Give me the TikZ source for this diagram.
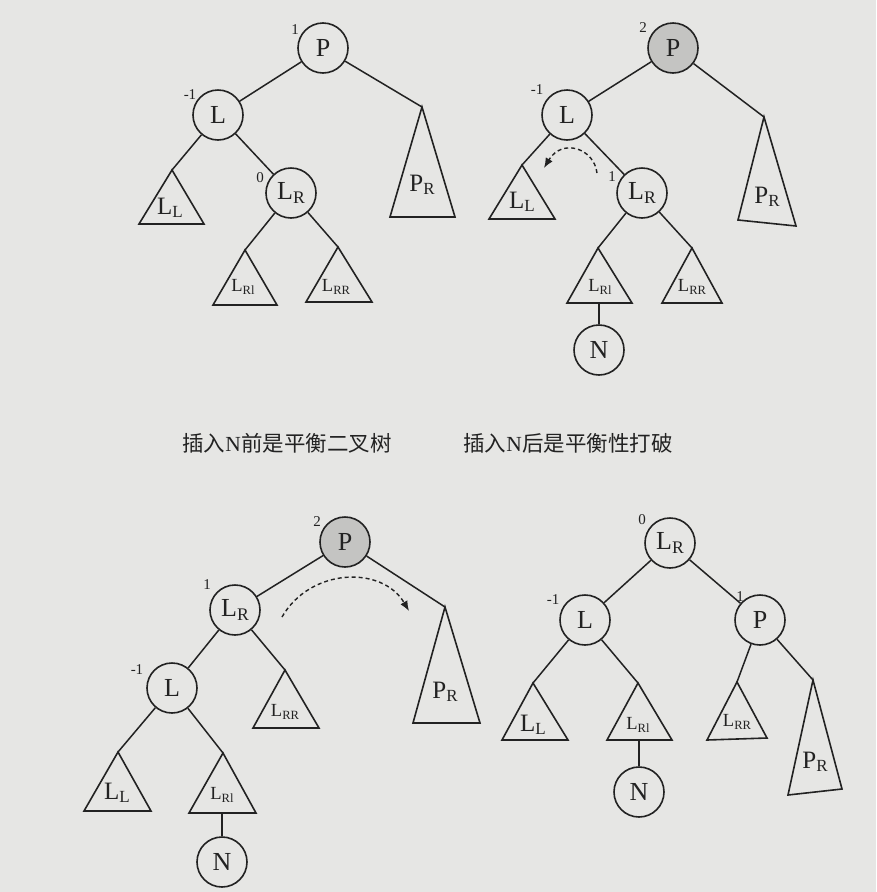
\documentclass[tikz,border=0pt]{standalone}
\usepackage{fontspec}
\usepackage{graphicx}
\setmainfont{Liberation Serif}
\newfontfamily\cjk{Noto Sans CJK SC}
\usetikzlibrary{arrows.meta}
\definecolor{paper}{HTML}{E6E6E4}
\definecolor{ink}{HTML}{222222}
\definecolor{nodegray}{HTML}{C4C4C2}
\newcommand\Sb[2]{#1\raisebox{-0.28ex}{\scalebox{0.68}{#2}}}
\tikzset{
 nd/.style={circle,draw=ink,line width=1.6pt,minimum size=50pt,inner sep=0pt,font=\fontsize{26}{26}\selectfont,text=ink},
 hot/.style={nd,fill=nodegray},
 edge/.style={draw=ink,line width=1.5pt},
 tri/.style={draw=ink,line width=1.6pt,line join=miter},
 lab/.style={inner sep=0pt,font=\fontsize{25}{25}\selectfont,text=ink},
 slab/.style={inner sep=0pt,font=\fontsize{18.5}{18.5}\selectfont,text=ink},
 bal/.style={inner sep=0pt,font=\fontsize{15}{15}\selectfont,text=ink},
 rot/.style={draw=ink,dashed,dash pattern=on 4pt off 3pt,line width=1.4pt,-{Latex[length=10pt,width=8pt]}},
 capt/.style={inner sep=0pt,font=\fontsize{21.5}{21.5}\selectfont,text=ink},
}
\begin{document}
\begin{tikzpicture}[x=1pt,y=-1pt]
\fill[paper] (0,0) rectangle (876,892);
\useasboundingbox (0,0) rectangle (876,892);

% ---------- Tree 1 ----------
\node[nd] (P1) at (323,48) {P};
\node[bal] (b1P) at (295,30) {1};
\node[nd] (L1) at (218,115) {L};
\node[bal] (b1L) at (190,95) {-1};
\node[nd] (LR1) at (291,193) {\Sb{L}{R}};
\node[bal] (b1LR) at (260,178) {0};
\coordinate (aLL1) at (172,170);
\coordinate (aLRl1) at (245,250);
\coordinate (aLRR1) at (338,247);
\coordinate (aPR1) at (422,107);
\draw[tri] (aLL1) -- (139,224) -- (204,224) -- cycle;
\node[lab] (tLL1) at (170,208) {\Sb{L}{L}};
\draw[tri] (aLRl1) -- (213,305) -- (277,305) -- cycle;
\node[slab] (tLRl1) at (243,287) {\Sb{L}{Rl}};
\draw[tri] (aLRR1) -- (306,302) -- (372,302) -- cycle;
\node[slab] (tLRR1) at (336,287) {\Sb{L}{RR}};
\draw[tri] (aPR1) -- (390,217) -- (455,217) -- cycle;
\node[lab] (tPR1) at (422,185) {\Sb{P}{R}};
\draw[edge] (P1) -- (L1);
\draw[edge] (P1) -- (aPR1);
\draw[edge] (L1) -- (aLL1);
\draw[edge] (L1) -- (LR1);
\draw[edge] (LR1) -- (aLRl1);
\draw[edge] (LR1) -- (aLRR1);

% ---------- Tree 2 ----------
\node[hot] (P2) at (673,48) {P};
\node[bal] (b2P) at (643,28) {2};
\node[nd] (L2) at (567,115) {L};
\node[bal] (b2L) at (537,90) {-1};
\node[nd] (LR2) at (642,193) {\Sb{L}{R}};
\node[bal] (b2LR) at (612,177) {1};
\coordinate (aLL2) at (522,165);
\coordinate (aLRl2) at (598,248);
\coordinate (aLRR2) at (692,248);
\coordinate (aPR2) at (764,117);
\coordinate (mLRl2) at (599,303);
\draw[tri] (aLL2) -- (489,219) -- (555,219) -- cycle;
\node[lab] (tLL2) at (522,202) {\Sb{L}{L}};
\draw[tri] (aLRl2) -- (567,303) -- (632,303) -- cycle;
\node[slab] (tLRl2) at (600,287) {\Sb{L}{Rl}};
\draw[tri] (aLRR2) -- (662,303) -- (722,303) -- cycle;
\node[slab] (tLRR2) at (692,287) {\Sb{L}{RR}};
\draw[tri] (aPR2) -- (738,220) -- (796,226) -- cycle;
\node[lab] (tPR2) at (767,197) {\Sb{P}{R}};
\node[nd] (N2) at (599,350) {N};
\draw[edge] (P2) -- (L2);
\draw[edge] (P2) -- (aPR2);
\draw[edge] (L2) -- (aLL2);
\draw[edge] (L2) -- (LR2);
\draw[edge] (LR2) -- (aLRl2);
\draw[edge] (LR2) -- (aLRR2);
\draw[edge] (mLRl2) -- (N2);
\coordinate (r2s) at (597,173);
\coordinate (r2e) at (544,168);
\draw[rot] (r2s) .. controls (594,148) and (562,138) .. (r2e);

% ---------- Captions ----------
\node[capt] (c1) at (287,443) {\cjk 插入{\rmfamily N}前是平衡二叉树};
\node[capt] (c2) at (568,443) {\cjk 插入{\rmfamily N}后是平衡性打破};

% ---------- Tree 3 ----------
\node[hot] (P3) at (345,542) {P};
\node[bal] (b3P) at (317,522) {2};
\node[nd] (LR3) at (235,610) {\Sb{L}{R}};
\node[bal] (b3LR) at (207,585) {1};
\node[nd] (L3) at (172,688) {L};
\node[bal] (b3L) at (137,670) {-1};
\coordinate (aLRR3) at (285,670);
\coordinate (aPR3) at (445,607);
\coordinate (aLL3) at (118,752);
\coordinate (aLRl3) at (223,753);
\coordinate (mLRl3) at (222,813);
\draw[tri] (aLRR3) -- (253,728) -- (319,728) -- cycle;
\node[slab] (tLRR3) at (285,712) {\Sb{L}{RR}};
\draw[tri] (aPR3) -- (413,723) -- (480,723) -- cycle;
\node[lab] (tPR3) at (445,692) {\Sb{P}{R}};
\draw[tri] (aLL3) -- (84,811) -- (151,811) -- cycle;
\node[lab] (tLL3) at (117,793) {\Sb{L}{L}};
\draw[tri] (aLRl3) -- (189,813) -- (256,813) -- cycle;
\node[slab] (tLRl3) at (222,795) {\Sb{L}{Rl}};
\node[nd] (N3) at (222,862) {N};
\draw[edge] (P3) -- (LR3);
\draw[edge] (P3) -- (aPR3);
\draw[edge] (LR3) -- (L3);
\draw[edge] (LR3) -- (aLRR3);
\draw[edge] (L3) -- (aLL3);
\draw[edge] (L3) -- (aLRl3);
\draw[edge] (mLRl3) -- (N3);
\coordinate (r3s) at (282,617);
\coordinate (r3e) at (409,611);
\draw[rot] (r3s) .. controls (310,568) and (382,565) .. (r3e);

% ---------- Tree 4 ----------
\node[nd] (LR4) at (670,543) {\Sb{L}{R}};
\node[bal] (b4LR) at (642,520) {0};
\node[nd] (L4) at (585,620) {L};
\node[bal] (b4L) at (553,600) {-1};
\node[nd] (P4) at (760,620) {P};
\coordinate (aLL4) at (533,683);
\coordinate (aLRl4) at (638,683);
\coordinate (aLRR4) at (737,682);
\coordinate (aPR4) at (813,680);
\coordinate (mLRl4) at (639,740);
\draw[tri] (aLL4) -- (502,740) -- (568,740) -- cycle;
\node[lab] (tLL4) at (533,725) {\Sb{L}{L}};
\draw[tri] (aLRl4) -- (607,740) -- (672,740) -- cycle;
\node[slab] (tLRl4) at (638,725) {\Sb{L}{Rl}};
\draw[tri] (aLRR4) -- (707,740) -- (767,738) -- cycle;
\node[slab] (tLRR4) at (737,722) {\Sb{L}{RR}};
\draw[tri] (aPR4) -- (788,795) -- (842,789) -- cycle;
\node[lab] (tPR4) at (815,762) {\Sb{P}{R}};
\node[nd] (N4) at (639,792) {N};
\draw[edge] (LR4) -- (L4);
\draw[edge] (LR4) -- (P4);
\draw[edge] (L4) -- (aLL4);
\draw[edge] (L4) -- (aLRl4);
\draw[edge] (P4) -- (aLRR4);
\draw[edge] (P4) -- (aPR4);
\draw[edge] (mLRl4) -- (N4);
\node[bal] (b4P) at (740,597) {1};
\end{tikzpicture}
\end{document}
